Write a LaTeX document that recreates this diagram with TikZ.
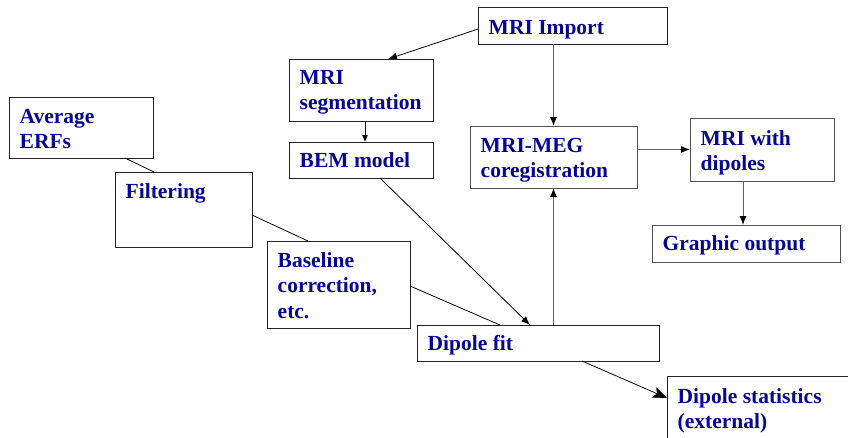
\documentclass[tikz,border=0pt]{standalone}
\usepackage{fontspec}
\setmainfont{Liberation Serif}
\usetikzlibrary{arrows.meta,calc}
\definecolor{txtblue}{RGB}{5,5,150}
\definecolor{boxdark}{RGB}{35,35,35}
\definecolor{boxgray}{RGB}{80,80,80}
\definecolor{linegray}{RGB}{95,95,95}
\newcommand{\ml}[1]{\begin{tabular}[t]{@{}l@{}}#1\end{tabular}}
\newcommand{\mkbox}[8]{%
  \node[boxst, draw=#7, minimum width={(#4-#2)*1pt}, minimum height={(#5-#3)*1pt}] (#1) at (#2,#3) {};
  \node[txtst] (#1t) at ([xshift=10.5pt,yshift=-#6pt]#1.north west) {\ml{#8}};}
\tikzset{
  boxst/.style={line width=0.8pt, anchor=north west, inner sep=0pt, outer sep=0pt, fill=white},
  txtst/.style={anchor=base west, inner sep=0pt, text=txtblue, font=\fontsize{21.5}{25.5}\selectfont\bfseries},
  conn/.style={draw=black, line width=0.8pt},
  conng/.style={draw=linegray, line width=1pt},
  tip/.style={-{Latex[length=9pt,width=7pt,color=black]}},
  smalltip/.style={-{Latex[length=7pt,width=6pt,color=black]}},
  bigtip/.style={-{Stealth[length=14pt,width=11pt,inset=3pt]}}
}
\begin{document}
\begin{tikzpicture}[x=1pt,y=-1pt]
\useasboundingbox (0,0) rectangle (848,437);
\clip (0,0) rectangle (848,437);
\fill[white] (0,0) rectangle (848,437);
\mkbox{avg}{9}{97}{153}{158}{26}{boxdark}{Average\\ERFs}
\mkbox{filt}{115}{172}{252}{247}{26}{boxdark}{Filtering}
\mkbox{base}{267}{241}{410}{328}{26}{boxdark}{Baseline\\correction,\\etc.}
\mkbox{imp}{478}{7}{667}{44}{27}{boxdark}{MRI Import}
\mkbox{seg}{289}{59}{433}{121}{25}{boxdark}{MRI\\segmentation}
\mkbox{bem}{289}{142}{433}{178}{25}{boxdark}{BEM model}
\mkbox{meg}{470}{126}{637}{188}{26}{boxgray}{MRI-MEG\\coregistration}
\mkbox{mwd}{690}{118}{834}{181}{27}{boxgray}{MRI with\\dipoles}
\mkbox{gro}{652}{225}{840}{262}{25}{boxgray}{Graphic output}
\mkbox{dip}{417}{325}{659}{361}{25}{boxdark}{Dipole fit}
\mkbox{stat}{667}{376}{870}{460}{27}{boxdark}{Dipole statistics\\(external)}
% links
\draw[conn] ([xshift=-28pt]avg.south east) -- ([xshift=39pt]filt.north west);
\draw[conn] ([yshift=-5.5pt]filt.east) -- ([xshift=41pt]base.north west);
\draw[conn] ([yshift=-1.5pt]base.east) -- ([xshift=83pt]dip.north west);
\draw[conn,tip] ([yshift=-3.5pt]imp.west) -- ([xshift=27pt]seg.north);
\draw[conn,smalltip] ([xshift=4pt]seg.south) -- ([xshift=4pt]bem.north);
\draw[conng,tip] (imp.south -| meg.north) -- (meg.north);
\draw[conng,tip] (meg.east |- mwd.west) -- (mwd.west);
\draw[conng,tip] ([xshift=-3pt]gro.north |- mwd.south) -- ([xshift=-3pt]gro.north);
\draw[conn,tip] ([xshift=19pt]bem.south) -- ([xshift=-8pt]dip.north);
\draw[conng,tip] (dip.north -| meg.south) -- (meg.south);
\draw[conn,bigtip] ([xshift=44pt]dip.south) -- ([yshift=-22pt]stat.north west);
\end{tikzpicture}
\end{document}
